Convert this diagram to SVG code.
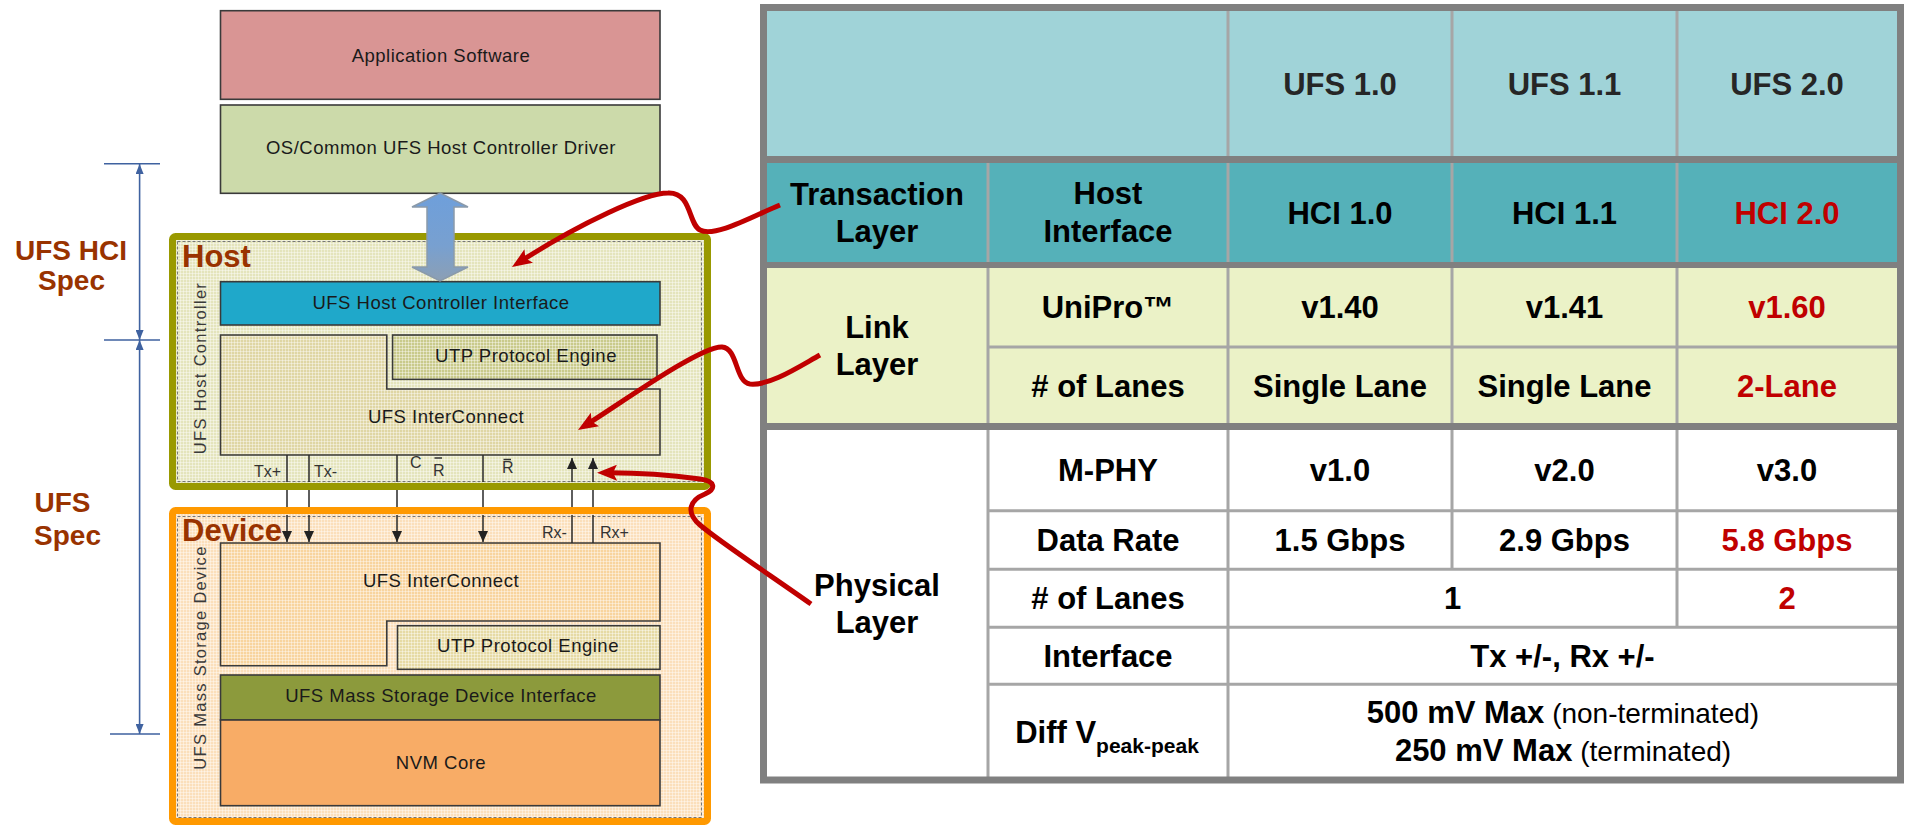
<svg xmlns="http://www.w3.org/2000/svg" width="1906" height="827" viewBox="0 0 1906 827">
  <defs>
    <style>
      text { font-family: "Liberation Sans", Arial, sans-serif; }
      .lbl { font-size: 18.5px; fill: #1a1a1a; text-anchor: middle; letter-spacing: 0.5px; }
      .sig { font-size: 16px; fill: #333; }
      .vert { font-size: 16.5px; fill: #3a3a3a; text-anchor: middle; letter-spacing: 1.3px; }
      .box { stroke: #3a3a3a; stroke-width: 1.6; }
      .brown { font-size: 31px; font-weight: bold; fill: #993300; }
      .spec { font-size: 28px; font-weight: bold; fill: #993300; text-anchor: middle; }
      .cell { font-size: 31px; font-weight: bold; fill: #000; text-anchor: middle; }
      .hdr { fill: #262626; }
      .new { fill: #C00000; }
      .thin { stroke: #A6A6A6; stroke-width: 3; fill: none; }
      .thick { stroke: #808080; fill: none; }
      .mesh { fill: url(#mesh); stroke: none; }
      .red { fill: none; stroke: #C00000; stroke-width: 5; stroke-linecap: butt; marker-end: url(#redHead); }
      .dim { stroke: #3F62A0; stroke-width: 1.6; fill: none; }
      .wire { stroke: #2a2a2a; stroke-width: 1.5; fill: none; }
      .dash { fill: none; stroke: #777; stroke-width: 1; stroke-dasharray: 3 2; }
    </style>
    <pattern id="mesh" width="3" height="3" patternUnits="userSpaceOnUse">
      <path d="M0,0.5H3M0.5,0V3" stroke="#fff" stroke-opacity="0.4" stroke-width="1"/>
    </pattern>
    <linearGradient id="busFill" x1="0" y1="0" x2="0" y2="1">
      <stop offset="0" stop-color="#6E9FDB"/>
      <stop offset="0.6" stop-color="#78A0D0"/>
      <stop offset="1" stop-color="#8C9FB4"/>
    </linearGradient>
    <marker id="redHead" viewBox="0 0 20 16" refX="12" refY="8" markerWidth="20" markerHeight="16" markerUnits="userSpaceOnUse" orient="auto">
      <path d="M0,0 L20,8 L0,16 L4,8 Z" fill="#C00000"/>
    </marker>
    <marker id="dimHead" viewBox="0 0 10 8" refX="10" refY="4" markerWidth="10" markerHeight="8" markerUnits="userSpaceOnUse" orient="auto-start-reverse">
      <path d="M0,0 L10,4 L0,8 Z" fill="#3F62A0"/>
    </marker>
    <marker id="sigHead" viewBox="0 0 11 10" refX="11" refY="5" markerWidth="11" markerHeight="10" markerUnits="userSpaceOnUse" orient="auto">
      <path d="M0,0 L11,5 L0,10 Z" fill="#222"/>
    </marker>
  </defs>

  <rect width="1906" height="827" fill="#fff"/>

  <!-- software stack above the controller -->
  <g id="app-software">
    <rect class="box" x="220.5" y="10.7" width="439.5" height="88.6" fill="#D99594"/>
    <text class="lbl" x="441" y="61.5">Application Software</text>
  </g>
  <g id="host-driver">
    <rect class="box" x="220.5" y="105" width="439.5" height="88.3" fill="#CCDAAA"/>
    <text class="lbl" x="441" y="154">OS/Common UFS Host Controller Driver</text>
  </g>

  <!-- host controller -->
  <g id="host">
    <rect x="172.5" y="236.5" width="535" height="250" rx="3" fill="#E4E4BC" stroke="#999900" stroke-width="7"/>
    <rect class="mesh" x="176" y="240" width="528" height="243"/>
    <rect class="dash" x="177.5" y="241.5" width="524" height="240"/>
    <text class="brown" x="182" y="267">Host</text>
    <text class="vert" transform="translate(206,368) rotate(-90)">UFS Host Controller</text>
  </g>
  <g id="host-hci">
    <rect class="box" x="220.5" y="281.7" width="439.5" height="43.3" fill="#1FA8CA"/>
    <text class="lbl" x="441" y="308.5">UFS Host Controller Interface</text>
  </g>
  <g id="host-utp">
    <rect class="box" x="392.6" y="335" width="264.4" height="44.3" fill="#C9CA8B"/>
    <rect class="mesh" x="393.5" y="336" width="262.6" height="42.5"/>
    <text class="lbl" x="526" y="362">UTP Protocol Engine</text>
  </g>
  <g id="host-interconnect">
    <path class="box" d="M220.5,335 H386.8 V389 H660 V455 H220.5 Z" fill="#DFD6A4"/>
    <path class="mesh" d="M221.5,336 H385.8 V390 H659 V454 H221.5 Z"/>
    <text class="lbl" x="446" y="423">UFS InterConnect</text>
  </g>

  <!-- mass storage device -->
  <g id="device">
    <rect x="172.5" y="510.5" width="535" height="311" rx="3" fill="#FBDFBB" stroke="#FF9900" stroke-width="7"/>
    <rect class="mesh" x="176" y="514" width="528" height="304"/>
    <rect class="dash" x="177.5" y="516.5" width="524" height="301"/>
    <text class="brown" x="182" y="541">Device</text>
    <text class="vert" transform="translate(205.5,657.5) rotate(-90)">UFS Mass Storage Device</text>
  </g>
  <g id="device-interconnect">
    <path class="box" d="M220.5,543 H660 V621 H386.8 V665.7 H220.5 Z" fill="#F8D49E"/>
    <path class="mesh" d="M221.5,544 H659 V620 H385.8 V664.7 H221.5 Z"/>
    <text class="lbl" x="441" y="587">UFS InterConnect</text>
  </g>
  <g id="device-utp">
    <rect class="box" x="397.5" y="625.7" width="262.5" height="43.6" fill="#E6DAA4"/>
    <rect class="mesh" x="398.5" y="626.7" width="260.5" height="41.6"/>
    <text class="lbl" x="528" y="652">UTP Protocol Engine</text>
  </g>
  <g id="device-msd-interface">
    <rect class="box" x="220.5" y="675" width="439.5" height="45" fill="#8C9A3C"/>
    <text class="lbl" x="441" y="702">UFS Mass Storage Device Interface</text>
  </g>
  <g id="device-nvm">
    <rect class="box" x="220.5" y="720" width="439.5" height="85.7" fill="#F8AC66"/>
    <text class="lbl" x="441" y="769">NVM Core</text>
  </g>

  <!-- signal pin labels -->
  <g id="pin-labels">
    <text class="sig" x="254" y="477">Tx+</text>
    <text class="sig" x="314" y="477">Tx-</text>
    <text class="sig" x="410" y="468" font-size="13">C</text>
    <text class="sig" x="433" y="476">R</text>
    <path d="M434.5,458 H442" stroke="#333" stroke-width="1.5"/>
    <text class="sig" x="502" y="473" font-size="15">R</text>
    <path d="M503.5,459.5 H511" stroke="#333" stroke-width="1.5"/>
    <text class="sig" x="542" y="538">Rx-</text>
    <text class="sig" x="600" y="538">Rx+</text>
  </g>

  <!-- spec coverage ranges -->
  <g id="spec-ranges">
    <path class="dim" d="M104,163.7 H160 M104,340 H160 M110,734 H160"/>
    <path class="dim" d="M139.6,164 V340" marker-start="url(#dimHead)" marker-end="url(#dimHead)"/>
    <path class="dim" d="M139.6,340 V734" marker-start="url(#dimHead)" marker-end="url(#dimHead)"/>
    <text class="spec" x="71" y="260">UFS HCI</text>
    <text class="spec" x="71.5" y="290">Spec</text>
    <text class="spec" x="62.5" y="512">UFS</text>
    <text class="spec" x="67.5" y="545">Spec</text>
  </g>

  <!-- comparison table -->
  <g id="table">
    <rect x="767" y="10" width="1130" height="146" fill="#A0D3D8"/>
    <rect x="767" y="163" width="1130" height="99" fill="#55B1B9"/>
    <rect x="767" y="268" width="1130" height="155" fill="#EBF2C7"/>
    <rect x="767" y="430" width="1130" height="347" fill="#FFFFFF"/>
    <path class="thin" d="M988,163 V777 M1228,10 V777 M1452,10 V569.3 M1677,10 V627.3"/>
    <path class="thin" d="M988,347 H1897 M988,510.7 H1897 M988,569.3 H1897 M988,627.3 H1897 M988,684.3 H1897"/>
    <path class="thick" stroke-width="7" d="M760,159.5 H1904 M760,426.5 H1904"/>
    <path class="thick" stroke-width="6" d="M760,265 H1904"/>
    <rect class="thick" x="763.5" y="7.5" width="1137" height="772.5" stroke-width="7"/>

    <text class="cell hdr" x="1340" y="95">UFS 1.0</text>
    <text class="cell hdr" x="1564.5" y="95">UFS 1.1</text>
    <text class="cell hdr" x="1787" y="95">UFS 2.0</text>

    <text class="cell" x="877" y="205">Transaction</text>
    <text class="cell" x="877" y="242">Layer</text>
    <text class="cell" x="1108" y="204">Host</text>
    <text class="cell" x="1108" y="242">Interface</text>
    <text class="cell" x="1340" y="224">HCI 1.0</text>
    <text class="cell" x="1564.5" y="224">HCI 1.1</text>
    <text class="cell new" x="1787" y="224">HCI 2.0</text>

    <text class="cell" x="877" y="338">Link</text>
    <text class="cell" x="877" y="375">Layer</text>
    <text class="cell" x="1108" y="318">UniPro™</text>
    <text class="cell" x="1340" y="318">v1.40</text>
    <text class="cell" x="1564.5" y="318">v1.41</text>
    <text class="cell new" x="1787" y="318">v1.60</text>
    <text class="cell" x="1108" y="397"># of Lanes</text>
    <text class="cell" x="1340" y="397">Single Lane</text>
    <text class="cell" x="1564.5" y="397">Single Lane</text>
    <text class="cell new" x="1787" y="397">2-Lane</text>

    <text class="cell" x="877" y="596">Physical</text>
    <text class="cell" x="877" y="633">Layer</text>
    <text class="cell" x="1108" y="481">M-PHY</text>
    <text class="cell" x="1340" y="481">v1.0</text>
    <text class="cell" x="1564.5" y="481">v2.0</text>
    <text class="cell" x="1787" y="481">v3.0</text>
    <text class="cell" x="1108" y="551">Data Rate</text>
    <text class="cell" x="1340" y="551">1.5 Gbps</text>
    <text class="cell" x="1564.5" y="551">2.9 Gbps</text>
    <text class="cell new" x="1787" y="551">5.8 Gbps</text>
    <text class="cell" x="1108" y="609"># of Lanes</text>
    <text class="cell" x="1452.5" y="609">1</text>
    <text class="cell new" x="1787" y="609">2</text>
    <text class="cell" x="1108" y="667">Interface</text>
    <text class="cell" x="1562.5" y="667">Tx +/-, Rx +/-</text>
    <text class="cell" x="1107" y="743">Diff V<tspan font-size="21" dy="10">peak-peak</tspan></text>
    <text class="cell" x="1563" y="723">500 mV Max<tspan font-weight="normal" font-size="28"> (non-terminated)</tspan></text>
    <text class="cell" x="1563" y="761">250 mV Max<tspan font-weight="normal" font-size="28"> (terminated)</tspan></text>
  </g>

  <!-- connectors -->
  <g id="connectors">
    <path d="M440,193 L468,207 L454,207 L454,267 L468,267 L440,281 L412,267 L427,267 L427,207 L412,207 Z" fill="url(#busFill)" stroke="#8A9AAA" stroke-width="1.5"/>
    <path class="wire" d="M287,455 V482 M287,490 V507 M287,515 V542" marker-end="url(#sigHead)"/>
    <path class="wire" d="M309,455 V482 M309,490 V507 M309,515 V542" marker-end="url(#sigHead)"/>
    <path class="wire" d="M397,455 V482 M397,490 V507 M397,515 V542" marker-end="url(#sigHead)"/>
    <path class="wire" d="M483,455 V482 M483,490 V507 M483,515 V542" marker-end="url(#sigHead)"/>
    <path class="wire" d="M572,543 V515 M572,507 V490 M572,482 V458" marker-end="url(#sigHead)"/>
    <path class="wire" d="M593,543 V515 M593,507 V490 M593,482 V458" marker-end="url(#sigHead)"/>
    <path class="red" d="M780,205 C755,215 715,238 700,230 C688,224 692,192 668,193 C645,193 580,223 518.7,262.6"/>
    <path class="red" d="M820,355 C800,366 770,386 750,384 C735,382 738,348 722,347 C700,346 617,406 584.8,425.8"/>
    <path class="red" d="M811,604 C770,575 720,542 700,525 C685,512 690,500 705,494 C716,489 716,481 700,479 C670,475 630,472.6 605,472.8"/>
  </g>
</svg>
